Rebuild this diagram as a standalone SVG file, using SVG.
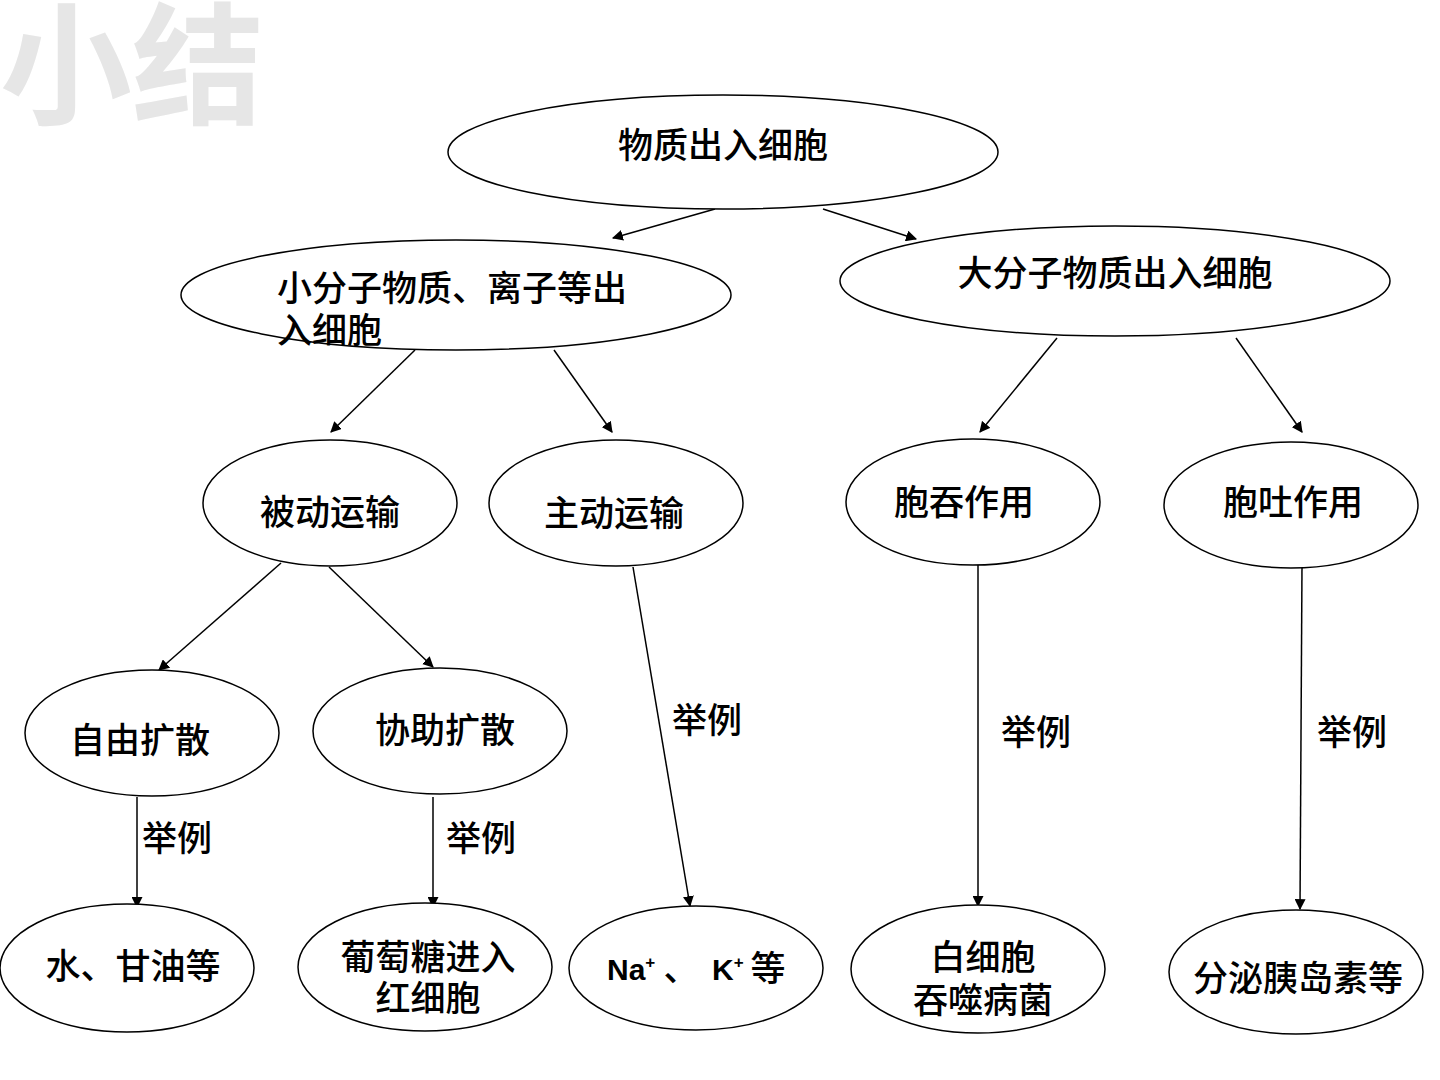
<svg xmlns="http://www.w3.org/2000/svg" width="1440" height="1080" viewBox="0 0 1440 1080">
<style>
.n{fill:#fff;stroke:#000;stroke-width:1.5}
.t{font-family:"Noto Sans CJK SC","Liberation Sans",sans-serif;font-size:35px;font-weight:500;fill:#000;text-anchor:middle}
.l{font-family:"Noto Sans CJK SC","Liberation Sans",sans-serif;font-size:35px;font-weight:500;fill:#000;text-anchor:start}
.b{font-family:"Liberation Sans",sans-serif;font-size:30px;font-weight:bold;fill:#000}
.c line{stroke:#000;stroke-width:1.5;marker-end:url(#a)}
</style>
<defs>
<marker id="a" viewBox="0 0 10 10" refX="9" refY="5" markerWidth="11" markerHeight="11" markerUnits="userSpaceOnUse" orient="auto">
<path d="M0,0L10,5L0,10z" fill="#000"/>
</marker>
</defs>
<rect width="1440" height="1080" fill="#fff"/>
<text x="0" y="114" font-family="Noto Sans CJK SC,sans-serif" font-size="132" font-weight="bold" fill="#e6e6e6">小结</text>
<g class="c">
<line x1="715" y1="209" x2="613" y2="238"/>
<line x1="823" y1="209" x2="916" y2="239"/>
<line x1="415" y1="350" x2="331" y2="432"/>
<line x1="554" y1="350" x2="612" y2="432"/>
<line x1="1057" y1="338" x2="980" y2="432"/>
<line x1="1236" y1="338" x2="1302" y2="432"/>
<line x1="281" y1="563" x2="159" y2="670"/>
<line x1="329" y1="567" x2="433" y2="667"/>
<line x1="137" y1="797" x2="137" y2="907"/>
<line x1="433" y1="797" x2="433" y2="907"/>
<line x1="633" y1="567" x2="690" y2="906"/>
<line x1="978" y1="565" x2="978" y2="906"/>
<line x1="1302" y1="565" x2="1300" y2="909"/>
</g>
<g class="t">
<text x="177" y="851">举例</text>
<text x="481" y="851">举例</text>
<text x="707" y="733">举例</text>
<text x="1036" y="745">举例</text>
<text x="1352" y="745">举例</text>
</g>
<g id="n1"><ellipse class="n" cx="723" cy="152" rx="275" ry="57"/><text class="t" x="723" y="158">物质出入细胞</text></g>
<g id="n2"><ellipse class="n" cx="456" cy="295" rx="275" ry="55"/><text class="l" x="277" y="301">小分子物质、离子等出</text><text class="l" x="277" y="343">入细胞</text></g>
<g id="n3"><ellipse class="n" cx="1115" cy="281" rx="275" ry="55"/><text class="t" x="1115" y="286">大分子物质出入细胞</text></g>
<g id="n4"><ellipse class="n" cx="330" cy="503" rx="127" ry="63"/><text class="t" x="330" y="525">被动运输</text></g>
<g id="n5"><ellipse class="n" cx="616" cy="503" rx="127" ry="63"/><text class="t" x="614" y="526">主动运输</text></g>
<g id="n6"><ellipse class="n" cx="973" cy="502" rx="127" ry="63"/><text class="t" x="964" y="515">胞吞作用</text></g>
<g id="n7"><ellipse class="n" cx="1291" cy="505" rx="127" ry="63"/><text class="t" x="1293" y="515">胞吐作用</text></g>
<g id="n8"><ellipse class="n" cx="152" cy="733" rx="127" ry="63"/><text class="t" x="140" y="753">自由扩散</text></g>
<g id="n9"><ellipse class="n" cx="440" cy="731" rx="127" ry="63"/><text class="t" x="445" y="743">协助扩散</text></g>
<g id="n10"><ellipse class="n" cx="127" cy="968" rx="127" ry="64"/><text class="t" x="133" y="979">水、甘油等</text></g>
<g id="n11"><ellipse class="n" cx="425" cy="967" rx="127" ry="64"/><text class="t" x="428" y="970">葡萄糖进入</text><text class="t" x="428" y="1011">红细胞</text></g>
<g id="n12"><ellipse class="n" cx="696" cy="968" rx="127" ry="62"/><text class="b" x="607" y="980">Na<tspan font-size="17" dy="-12">+</tspan></text><text class="t" x="681" y="981">、</text><text class="b" x="712" y="980">K<tspan font-size="17" dy="-12">+</tspan></text><text class="t" x="768" y="981">等</text></g>
<g id="n13"><ellipse class="n" cx="978" cy="969" rx="127" ry="64"/><text class="t" x="983" y="970">白细胞</text><text class="t" x="983" y="1013">吞噬病菌</text></g>
<g id="n14"><ellipse class="n" cx="1296" cy="972" rx="127" ry="62"/><text class="t" x="1298" y="991">分泌胰岛素等</text></g>
</svg>
